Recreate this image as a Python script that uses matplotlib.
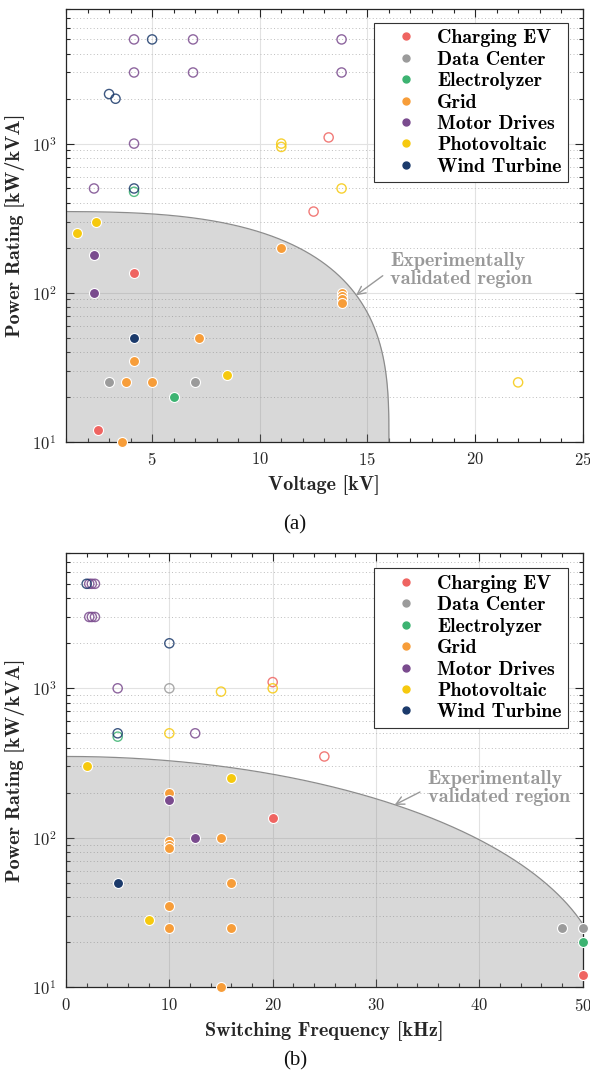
import numpy as np
import matplotlib
matplotlib.use("Agg")
import matplotlib.pyplot as plt
from matplotlib.lines import Line2D
from matplotlib.ticker import LogLocator, MultipleLocator, NullFormatter

plt.rcParams['mathtext.fontset'] = 'cm'
plt.rcParams['font.family'] = ['cmr10', 'DejaVu Serif']
plt.rcParams['axes.unicode_minus'] = False
plt.rcParams['axes.formatter.use_mathtext'] = True

# ---------------- data ----------------
categories = ["Charging EV", "Data Center", "Electrolyzer", "Grid",
              "Motor Drives", "Photovoltaic", "Wind Turbine"]
cat_colors = ["#EF6461", "#9B9B9B", "#3CB371", "#F79D39",
              "#7A4B8E", "#F6C90E", "#1B3A6B"]

# (a) Voltage [kV] vs Power Rating [kW/kVA]
ev_a = [(13.2, 1100), (12.5, 350), (4.16, 135), (2.5, 12)]
dc_a = [(3.0, 25), (7.0, 25)]
el_a = [(4.16, 475), (6.0, 20)]
grid_a = [(11.0, 200), (13.8, 100), (13.8, 95), (13.8, 90), (13.8, 85),
          (7.2, 50), (4.16, 35), (3.8, 25), (5.0, 25), (3.6, 10)]
md_a = [(4.16, 5000), (6.9, 5000), (13.8, 5000), (4.16, 3000), (6.9, 3000),
        (13.8, 3000), (4.16, 1000), (2.3, 500), (2.3, 180), (2.3, 100)]
pv_a = [(11.0, 1000), (11.0, 950), (13.8, 500), (2.4, 300), (1.5, 250),
        (8.5, 28), (22.0, 25)]
wt_a = [(5.0, 5000), (3.0, 2150), (3.3, 2000), (4.16, 500), (4.16, 50)]

# (b) Switching Frequency [kHz] vs Power Rating [kW/kVA]
ev_b = [(20, 1100), (25, 350), (20, 135), (50, 12)]
dc_b = [(10, 1000), (48, 25), (50, 25)]
el_b = [(5, 475), (50, 20)]
grid_b = [(10, 200), (15, 100), (10, 95), (10, 90), (10, 85),
          (16, 50), (10, 35), (10, 25), (16, 25), (15, 10)]
md_b = [(2.25, 5000), (2.5, 5000), (2.8, 5000), (2.25, 3000), (2.5, 3000),
        (2.8, 3000), (5, 1000), (12.5, 500), (10, 180), (12.5, 100)]
pv_b = [(20, 1000), (15, 950), (10, 500), (2, 300), (16, 250), (8, 28)]
wt_b = [(2, 5000), (10, 2000), (5, 500), (5, 50)]

series_a = [ev_a, dc_a, el_a, grid_a, md_a, pv_a, wt_a]
series_b = [ev_b, dc_b, el_b, grid_b, md_b, pv_b, wt_b]

# validated-region boundary parameters
P_MAX, P_MIN = 350.0, 10.0
V_LIMIT = 16.0     # kV
F_LIMIT = 52.0     # kHz


def boundary_a(v):
    u = np.clip(1 - (np.asarray(v, float) / V_LIMIT) ** 3, 0, 1) ** (1 / 3)
    return 10 ** (np.log10(P_MIN) + (np.log10(P_MAX) - np.log10(P_MIN)) * u)


def boundary_b(f):
    u = np.sqrt(np.clip(1 - (np.asarray(f, float) / F_LIMIT) ** 2, 0, 1))
    return 10 ** (np.log10(P_MIN) + (np.log10(P_MAX) - np.log10(P_MIN)) * u)


W, H = 590, 1077
fig = plt.figure(figsize=(W / 100, H / 100), dpi=100)


def px_axes(left, top, right, bottom):
    return fig.add_axes([left / W, 1 - bottom / H, (right - left) / W, (bottom - top) / H])


ax_a = px_axes(66, 9, 582.7, 441.7)
ax_b = px_axes(66, 553.3, 582.7, 987.3)

BOLD = ['cmb10', 'DejaVu Serif']
TXT = '#262626'


def draw(ax, series, boundary, xlim, xmajor, xminor, xlabel, curve_end,
         annot_xy, annot_text_xy, legend_anchor):
    ax.set_yscale('log')
    ax.set_xlim(*xlim)
    ax.set_ylim(10, 8000)

    # validated region
    xs = np.linspace(xlim[0], curve_end, 3000)
    ys = boundary(xs)
    ax.fill_between(xs, P_MIN, ys, color='#808080', alpha=0.30, lw=0, zorder=1)
    ax.plot(xs, ys, color='#8C8C8C', lw=0.9, zorder=1.5)

    for pts, col in zip(series, cat_colors):
        arr = np.array(pts, float)
        x, y = arr[:, 0], arr[:, 1]
        inside = y <= boundary(x) * 1.03
        if np.any(~inside):
            ax.scatter(x[~inside], y[~inside], s=44, facecolors='none',
                       edgecolors=col, linewidths=1.0, alpha=0.85, zorder=3,
                       clip_on=False)
        if np.any(inside):
            ax.scatter(x[inside], y[inside], s=52, color=col,
                       edgecolors='white', linewidths=0.8, zorder=4,
                       clip_on=False)

    ax.xaxis.set_major_locator(MultipleLocator(xmajor))
    ax.xaxis.set_minor_locator(MultipleLocator(xminor))
    ax.yaxis.set_major_locator(LogLocator(base=10, numticks=10))
    ax.yaxis.set_minor_locator(LogLocator(base=10, subs=np.arange(2, 10), numticks=20))
    ax.yaxis.set_minor_formatter(NullFormatter())

    ax.set_axisbelow(True)
    ax.grid(True, which='major', color='#E2E2E2', lw=0.8)
    ax.grid(True, which='minor', axis='y', color='#BDBDBD', lw=0.7,
            linestyle=(0, (1, 2.5)))

    ax.tick_params(which='both', direction='in', top=True, right=True,
                   colors=TXT, labelsize=12, width=0.8)
    ax.tick_params(which='major', length=5.5, pad=7)
    ax.tick_params(which='minor', length=3)
    for sp in ax.spines.values():
        sp.set_color(TXT)
        sp.set_linewidth(0.9)

    ax.set_xlabel(xlabel, fontfamily=BOLD, fontsize=14.5, color=TXT, labelpad=5)
    ax.set_ylabel('Power Rating [kW/kVA]', fontfamily=BOLD, fontsize=14.5,
                  color=TXT, labelpad=5)

    ax.annotate('Experimentally\nvalidated region', xy=annot_xy,
                xytext=annot_text_xy, ha='left', va='center',
                fontfamily=BOLD, fontsize=14.5, color='#999999',
                linespacing=1.0, zorder=6,
                arrowprops=dict(arrowstyle='->', color='#999999', lw=1.0,
                                relpos=(0, 0.5), shrinkA=4, shrinkB=0))

    handles = [Line2D([], [], ls='', marker='o', markersize=5, color=c,
                      markeredgecolor=c) for c in cat_colors]
    leg = ax.legend(handles, categories, loc='upper right',
                    bbox_to_anchor=legend_anchor, borderaxespad=0,
                    prop={'family': BOLD, 'size': 14.3}, frameon=True,
                    fancybox=False, framealpha=1, edgecolor='#333333',
                    handlelength=2.6, handletextpad=0.28, labelspacing=0.17,
                    borderpad=0.33)
    leg.get_frame().set_linewidth(0.8)
    leg.set_zorder(10)


draw(ax_a, series_a, boundary_a, (1, 25), 5, 1, 'Voltage [kV]', V_LIMIT,
     (14.47, 96), (16.05, 141), (0.972, 0.968))
draw(ax_b, series_b, boundary_b, (0, 50), 10, 2, 'Switching Frequency [kHz]', 50,
     (31.8, 166), (35.0, 215), (0.972, 0.965))

fig.text(0.5, 1 - 525 / H, '(a)', ha='center', va='center',
         fontfamily=['Liberation Serif', 'DejaVu Serif'], fontsize=15, color='#111111')
fig.text(0.5, 1 - 1061 / H, '(b)', ha='center', va='center',
         fontfamily=['Liberation Serif', 'DejaVu Serif'], fontsize=15, color='#111111')

fig.savefig('out.png', dpi=100)
